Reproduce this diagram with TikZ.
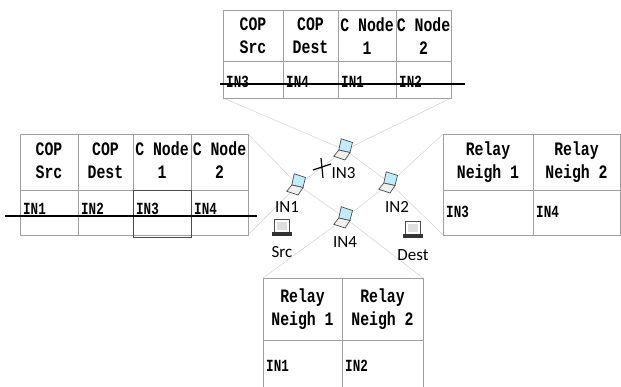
\documentclass[tikz,border=0pt]{standalone}
\usepackage{fontspec}
\newfontfamily\tabfont[FakeStretch=0.78]{Liberation Mono}
\newfontfamily\cellfont[FakeStretch=0.74]{Liberation Mono}
\newfontfamily\lblfont{Carlito}
\tikzset{
  tab/.style={draw=gray!75, line width=0.8pt},
  link/.style={draw=gray!35, line width=0.5pt},
  strike/.style={draw=black, line width=1.3pt},
  hdr/.style={align=center, inner sep=0pt, font={\tabfont\bfseries\fontsize{19}{23}\selectfont}},
  cell/.style={anchor=west, inner sep=0pt, font={\cellfont\bfseries\fontsize{17}{19}\selectfont}},
  lbl/.style={inner sep=0pt, font={\lblfont\fontsize{17}{19}\selectfont}},
  laptop/.pic={
    \begin{scope}[scale=1.25]
    \filldraw[fill=blue!30!cyan!25, draw=gray!60!black, line width=0.7pt] (-3,-9) -- (6,-6) -- (4,2) -- (-5,0) -- cycle;
    \filldraw[fill=gray!12, draw=gray!60!black, line width=0.7pt] (-5,0) -- (4,2) -- (0,8) -- (-9,5) -- cycle;
    \end{scope}
  },
  pc/.pic={
    \begin{scope}[scale=1.2]
    \filldraw[fill=white, draw=gray!60!black, line width=0.8pt] (-6,-9) rectangle (6,2);
    \fill[gray!25] (-4,-7) rectangle (4,0);
    \fill[black!80] (-8,2) rectangle (8,5);
    \end{scope}
  }
}
\begin{document}
\begin{tikzpicture}[x=1pt,y=-1pt]
\useasboundingbox (0,0) rectangle (621,386);
% node positions
\coordinate (IN3) at (345,150);
\coordinate (IN1) at (298,185);
\coordinate (IN2) at (390,183);
\coordinate (IN4) at (345,218);
\coordinate (Src) at (282,230);
\coordinate (Dest) at (413,232);
% table corners
\coordinate (T-sw) at (223,98);
\coordinate (T-se) at (451,98);
\coordinate (L-ne) at (248,134);
\coordinate (L-se) at (248,235);
\coordinate (R-nw) at (443,134);
\coordinate (R-sw) at (443,235);
\coordinate (B-nw) at (263,278);
\coordinate (B-ne) at (423,278);
% links
\draw[link] (T-sw) -- (IN3);
\draw[link] (T-se) -- (IN3);
\draw[link] (L-ne) -- (IN1);
\draw[link] (L-se) -- (IN1);
\draw[link] (R-nw) -- (IN2);
\draw[link] (R-sw) -- (IN2);
\draw[link] (B-nw) -- (IN4);
\draw[link] (B-ne) -- (IN4);
\draw[link] (IN1) -- (IN3);
\draw[link] (IN3) -- (IN2);
\draw[link] (IN1) -- (IN4);
\draw[link] (IN4) -- (IN2);
% top table
\draw[tab] (223,10) rectangle (451,98);
\draw[tab] (223,61) -- (451,61);
\foreach \x in {283,338,396} \draw[tab] (\x,10) -- (\x,98);
\node[hdr] (t1) at (253,36) {COP\\Src};
\node[hdr] (t2) at (310.5,36) {COP\\Dest};
\node[hdr] (t3) at (367,36) {C Node\\1};
\node[hdr] (t4) at (423.5,36) {C Node\\2};
\node[cell] (t5) at (226,82) {IN3};
\node[cell] (t6) at (286,82) {IN4};
\node[cell] (t7) at (341,82) {IN1};
\node[cell] (t8) at (399,82) {IN2};
\draw[strike] (220,84) -- (465,84);
% left table
\draw[tab] (20,134) rectangle (248,235);
\draw[tab] (20,190) -- (248,190);
\foreach \x in {78,133,191} \draw[tab] (\x,134) -- (\x,235);
\draw[draw=gray!60!black, line width=0.8pt] (133,190) rectangle (191,237);
\node[hdr] (l1) at (49,160.5) {COP\\Src};
\node[hdr] (l2) at (105.5,160.5) {COP\\Dest};
\node[hdr] (l3) at (162,160.5) {C Node\\1};
\node[hdr] (l4) at (219.5,160.5) {C Node\\2};
\node[cell] (l5) at (23,209) {IN1};
\node[cell] (l6) at (81,209) {IN2};
\node[cell] (l7) at (136,209) {IN3};
\node[cell] (l8) at (194,209) {IN4};
\draw[strike] (5,216) -- (257,216);
% right table
\draw[tab] (443,134) rectangle (620,235);
\draw[tab] (443,190) -- (620,190);
\draw[tab] (533,134) -- (533,235);
\node[hdr] (r1) at (488,162.5) {Relay\\Neigh 1};
\node[hdr] (r2) at (576.5,162.5) {Relay\\Neigh 2};
\node[cell] (r3) at (446,212) {IN3};
\node[cell] (r4) at (536,212) {IN4};
% bottom table
\draw[tab] (263,387) -- (263,278) -- (423,278) -- (423,387);
\draw[tab] (263,340) -- (423,340);
\draw[tab] (342,278) -- (342,387);
\node[hdr] (b1) at (302.5,309) {Relay\\Neigh 1};
\node[hdr] (b2) at (382.5,309) {Relay\\Neigh 2};
\node[cell] (b3) at (266,366) {IN1};
\node[cell] (b4) at (345,366) {IN2};
% devices
\pic at (IN3) {laptop};
\pic at (IN1) {laptop};
\pic at (IN2) {laptop};
\pic at (IN4) {laptop};
\pic at (Src) {pc};
\pic at (Dest) {pc};
\node[lbl] (lIN3) at (343.5,173) {IN3};
\node[lbl] (lIN1) at (287,207) {IN1};
\node[lbl] (lIN2) at (397,207) {IN2};
\node[lbl] (lIN4) at (345,242) {IN4};
\node[lbl] (lSrc) at (282,252) {Src};
\node[lbl] (lDest) at (413,255) {Dest};
% broken link mark
\draw[black, line width=1.2pt] (313,170) -- (331,164);
\draw[black, line width=1.2pt] (321,158) -- (323,178);
\end{tikzpicture}
\end{document}
